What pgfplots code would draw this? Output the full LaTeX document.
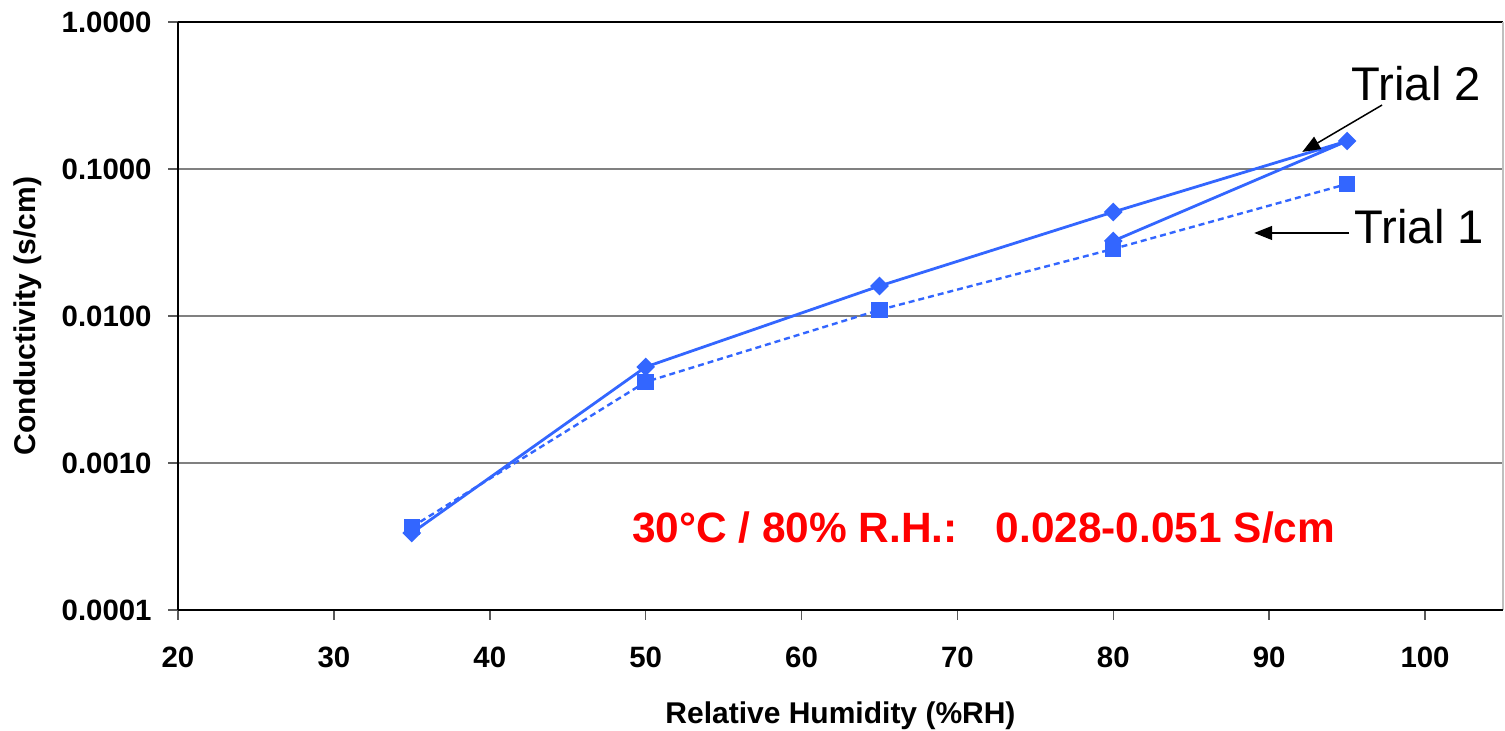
\documentclass[border=0pt]{standalone}
\usepackage{fontspec}
\setmainfont{Liberation Sans}
\usepackage{pgfplots}
\pgfplotsset{compat=1.18}
\usetikzlibrary{arrows.meta}
\definecolor{serblue}{HTML}{3366FF}
\definecolor{gridgray}{HTML}{808080}
\begin{document}
\begin{tikzpicture}
\useasboundingbox (0,0) rectangle (752.5pt,365.5pt);
\begin{axis}[
  at={(89pt,60.5pt)}, anchor=south west,
  scale only axis, width=662.5pt, height=294pt,
  xmin=20, xmax=105, ymode=log, ymin=1e-4, ymax=1,
  xtick={20,30,40,50,60,70,80,90,100},
  xticklabels={20,30,40,50,60,70,80,90,100},
  ytick={1e-4,1e-3,1e-2,1e-1,1},
  yticklabels={0.0001,0.0010,0.0100,0.1000,1.0000},
  yminorticks=false,
  xtick pos=bottom, ytick pos=left,
  tick align=outside, major tick length=5pt,
  tick style={black!65, line width=0.75pt},
  axis line style={draw=none},
  ymajorgrids, grid style={gridgray, line width=0.75pt},
  ticklabel style={font=\bfseries\fontsize{14.7}{14.7}\selectfont, inner sep=0pt},
  xticklabel style={anchor=north, yshift=-13.5pt},
  yticklabel style={anchor=east, xshift=-8pt},
  xlabel={Relative Humidity (\%RH)},
  ylabel={Conductivity (s/cm)},
  every axis x label/.style={at={(axis description cs:0.5,-0.1803)}, anchor=center, font=\bfseries\fontsize{15}{15}\selectfont},
  every axis y label/.style={at={(axis description cs:-0.1132,0.5)}, rotate=90, anchor=center, font=\bfseries\fontsize{15}{15}\selectfont},
  clip=false,
]
\draw[black, line width=0.75pt] (rel axis cs:0,1) -- (rel axis cs:1,1);
\draw[black!25, line width=0.75pt] (rel axis cs:1,0) -- (rel axis cs:1,1);
\draw[black, line width=1pt] (rel axis cs:0,0) -- (rel axis cs:0,1);
\draw[black, line width=1pt] (rel axis cs:0,0) -- (rel axis cs:1,0);
% Trial 2
\addplot[serblue, line width=1.4pt, mark=square*, mark size=2.6pt, mark options={rotate=45, solid, fill=serblue, draw=serblue}]
  coordinates {(35,3.34e-4) (50,4.50e-3) (65,1.60e-2) (80,5.10e-2) (95,0.155) (80,3.24e-2)};
% Trial 1
\addplot[serblue, line width=1.2pt, dash pattern=on 3pt off 2pt, mark=square*, mark size=3.5pt, mark options={solid, fill=serblue, draw=serblue}]
  coordinates {(35,3.67e-4) (50,3.56e-3) (65,1.10e-2) (80,2.86e-2) (95,7.91e-2)};
\node[anchor=base west, inner sep=0pt, text=red, font=\bfseries\fontsize{21.2}{21.2}\selectfont]
  at (axis cs:49.1,2.86e-4) {30°C / 80\% R.H.:\hspace{0.9em}0.028-0.051 S/cm};
\node[anchor=base west, inner sep=0pt, font=\fontsize{23.6}{23.6}\selectfont] at (axis cs:95.26,0.2944) {Trial 2};
\node[anchor=base west, inner sep=0pt, font=\fontsize{23.6}{23.6}\selectfont] at (axis cs:95.45,0.0309) {Trial 1};
\draw[black, line width=0.75pt, -{Triangle[length=9pt,width=7pt]}] (axis cs:97.24,0.2723) -- (axis cs:92.12,0.1306);
\draw[black, line width=0.75pt, -{Triangle[length=9pt,width=7pt]}] (axis cs:95.13,0.03672) -- (axis cs:89.04,0.03672);
\end{axis}
\end{tikzpicture}
\end{document}
